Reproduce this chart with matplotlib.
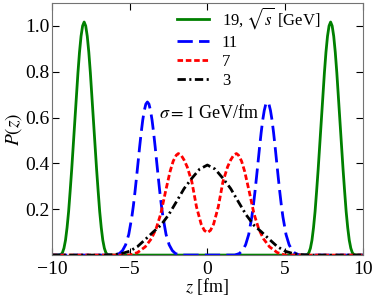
import matplotlib
matplotlib.use("Agg")
import matplotlib.pyplot as plt
import numpy as np

plt.rcParams['font.family'] = ['Liberation Serif', 'DejaVu Serif']
plt.rcParams['mathtext.fontset'] = 'stix'
plt.rcParams['font.size'] = 12
plt.rcParams['lines.scale_dashes'] = False

# sqrt(s) = 19 GeV (green), peaks near +-7.93 fm
z19 = [-10.0, -9.63, -9.43, -9.33, -9.23, -9.13, -9.03, -8.93, -8.83, -8.73, -8.63, -8.53,
       -8.43, -8.33, -8.23, -8.13, -8.03, -7.93, -7.83, -7.73, -7.63, -7.53, -7.43, -7.33,
       -7.23, -7.13, -7.03, -6.93, -6.83, -6.73, -6.63, -6.53, -6.43, -6.23,
       6.23, 6.43, 6.53, 6.63, 6.73, 6.83, 6.93, 7.03, 7.13, 7.23, 7.33, 7.43, 7.53, 7.63,
       7.73, 7.83, 7.93, 8.03, 8.13, 8.23, 8.33, 8.43, 8.53, 8.63, 8.73, 8.83, 8.93, 9.03,
       9.13, 9.23, 9.33, 9.43, 9.63, 10.0]
p19 = [0.0, 0.0, 0.002, 0.01, 0.03, 0.065, 0.12, 0.19, 0.28, 0.375, 0.48, 0.585,
       0.69, 0.795, 0.885, 0.955, 1.0, 1.017, 1.0, 0.955, 0.885, 0.795, 0.69, 0.585,
       0.48, 0.375, 0.28, 0.19, 0.12, 0.065, 0.03, 0.01, 0.002, 0.0,
       0.0, 0.002, 0.01, 0.03, 0.065, 0.12, 0.19, 0.28, 0.375, 0.48, 0.585, 0.69, 0.795, 0.885,
       0.955, 1.0, 1.017, 1.0, 0.955, 0.885, 0.795, 0.69, 0.585, 0.48, 0.375, 0.28, 0.19, 0.12,
       0.065, 0.03, 0.01, 0.002, 0.0, 0.0]

# 11 GeV (blue), peaks near +-3.86 fm
z11 = [-10.0, -5.96, -5.66, -5.46, -5.26, -5.06, -4.86, -4.76, -4.66, -4.56, -4.46, -4.36,
       -4.26, -4.16, -4.06, -3.96, -3.86, -3.76, -3.66, -3.56, -3.46, -3.36, -3.26, -3.16,
       -3.06, -2.96, -2.86, -2.66, -2.46, -2.26, -2.06, -1.76,
       1.76, 2.06, 2.26, 2.46, 2.66, 2.86, 2.96, 3.06, 3.16, 3.26, 3.36, 3.46, 3.56, 3.66,
       3.76, 3.86, 3.96, 4.06, 4.16, 4.26, 4.36, 4.46, 4.56, 4.66, 4.76, 4.86, 5.06, 5.26,
       5.46, 5.66, 5.96, 10.0]
p11 = [0.0, 0.0, 0.007, 0.02, 0.045, 0.09, 0.167, 0.217, 0.275, 0.339, 0.405, 0.472,
       0.534, 0.589, 0.631, 0.659, 0.668, 0.659, 0.631, 0.589, 0.534, 0.472, 0.405, 0.339,
       0.275, 0.217, 0.167, 0.09, 0.045, 0.02, 0.007, 0.0,
       0.0, 0.007, 0.02, 0.045, 0.09, 0.167, 0.217, 0.275, 0.339, 0.405, 0.472, 0.534, 0.589, 0.631,
       0.659, 0.668, 0.659, 0.631, 0.589, 0.534, 0.472, 0.405, 0.339, 0.275, 0.217, 0.167, 0.09, 0.045,
       0.02, 0.007, 0.0, 0.0]

# 7 GeV (red), double hump
z7 = [-10.0, -5.0, -4.5, -4.0, -3.6, -3.3, -3.0, -2.7, -2.4, -2.2, -2.0, -1.87, -1.7,
      -1.5, -1.3, -1.0, -0.7, -0.4, -0.2, 0.0,
      0.2, 0.4, 0.7, 1.0, 1.3, 1.5, 1.7, 1.87, 2.0, 2.2, 2.4, 2.7, 3.0, 3.3, 3.6, 4.0,
      4.5, 5.0, 10.0]
p7 = [0.0, 0.0, 0.011, 0.036, 0.072, 0.115, 0.18, 0.275, 0.365, 0.41, 0.436, 0.443, 0.437,
      0.415, 0.385, 0.32, 0.21, 0.135, 0.108, 0.098,
      0.108, 0.135, 0.21, 0.32, 0.385, 0.415, 0.437, 0.443, 0.436, 0.41, 0.365, 0.275, 0.18, 0.115,
      0.072, 0.036, 0.011, 0.0, 0.0]

# 3 GeV (black), single hump
z3 = [-10.0, -6.5, -6.0, -5.5, -5.0, -4.5, -4.0, -3.5, -3.0, -2.5, -2.0, -1.5, -1.0, -0.5, 0.0,
      0.5, 1.0, 1.5, 2.0, 2.5, 3.0, 3.5, 4.0, 4.5, 5.0, 5.5, 6.0, 6.5, 10.0]
p3 = [0.0, 0.0, 0.002, 0.007, 0.017, 0.037, 0.068, 0.10, 0.13, 0.175, 0.232, 0.29, 0.335, 0.375,
      0.393, 0.375, 0.335, 0.29, 0.232, 0.175, 0.13, 0.10, 0.068, 0.037, 0.017, 0.007, 0.002,
      0.0, 0.0]

fig = plt.figure(figsize=(3.74, 2.98), dpi=100)
ax = fig.add_axes([0.139, 0.144, 0.831, 0.846])

ax.plot(z19, p19, color='green', lw=2, label=r'19, $\sqrt{s}$ [GeV]')
ax.plot(z11, p11, color='blue', lw=2, dashes=(11, 4.5), label='11')
ax.plot(z7, p7, color='red', lw=2, dashes=(4, 2), label='7')
ax.plot(z3, p3, color='black', lw=2, dashes=(6, 2.5, 1.5, 2.5), label='3')

ax.set_xlim(-10, 10)
ax.set_ylim(0, 1.1)
ax.set_xticks([-10, -5, 0, 5, 10])
ax.set_yticks([0.2, 0.4, 0.6, 0.8, 1.0])
ax.tick_params(direction='in', top=True, right=True, length=5, width=0.8, labelsize=14)
ax.tick_params(axis='y', pad=1.5)
ax.tick_params(axis='x', pad=4)
for s in ax.spines.values():
    s.set_color('0.45')

ax.set_xlabel(r'$z$ [fm]', fontsize=13, labelpad=-1)
ax.set_ylabel(r'$P(z)$', fontsize=14, labelpad=1)

ax.text(-3.1, 0.62, r'$\sigma = 1$ GeV/fm', fontsize=13, va='center')

ax.legend(loc='upper left', bbox_to_anchor=(0.37, 1.03), frameon=False, fontsize=12,
          handlelength=1.9, handletextpad=0.8, labelspacing=0.2, borderaxespad=0.2)

fig.savefig('out.png', dpi=100)
